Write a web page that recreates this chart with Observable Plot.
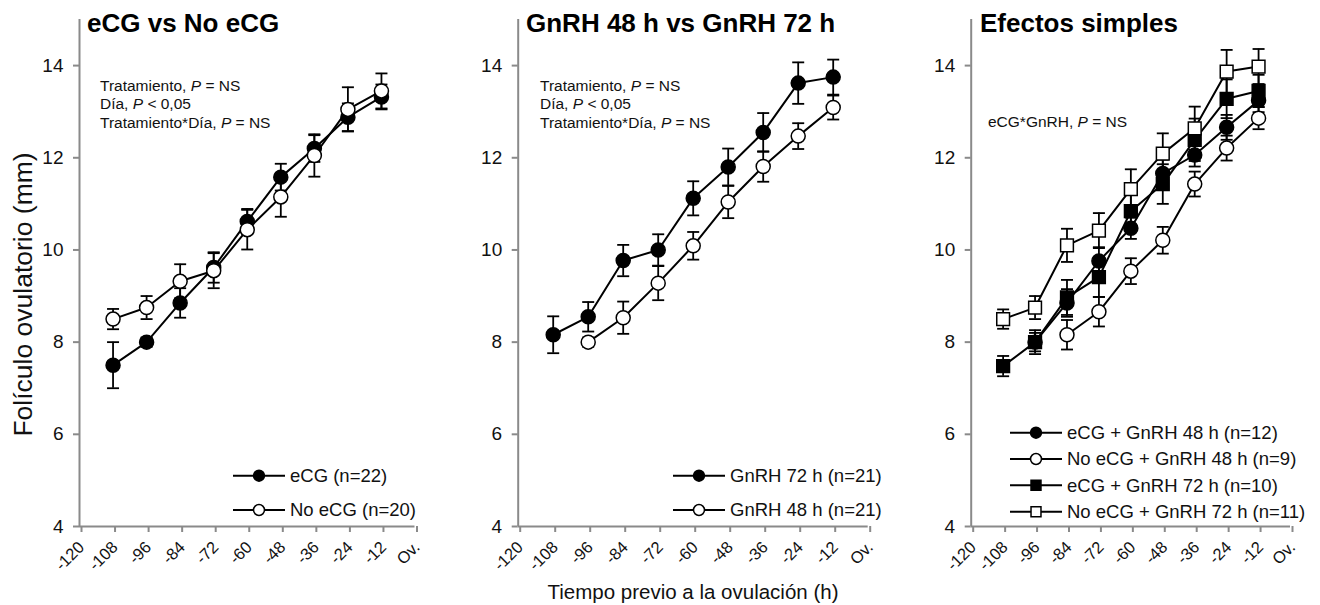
<!DOCTYPE html>
<html><head><meta charset="utf-8">
<script src="https://cdn.jsdelivr.net/npm/d3@7"></script>
<script src="https://cdn.jsdelivr.net/npm/@observablehq/plot@0.6"></script>
<style>
body{margin:0;background:#fff;}
#chart{position:relative;width:1320px;height:605px;background:#fff;font-family:"Liberation Sans",Arial,sans-serif;overflow:hidden;}
#chart svg{position:absolute;top:0;overflow:visible;}
</style></head><body><div id="chart"></div>
<script>
// ---------- shared axis data ----------
const xTickValues = [-120, -108, -96, -84, -72, -60, -48, -36, -24, -12, 0];
const xTickLabels = ["-120", "-108", "-96", "-84", "-72", "-60", "-48", "-36", "-24", "-12", "Ov."];
const yTickValues = [4, 6, 8, 10, 12, 14];
const yLabel = "Folículo ovulatorio (mm)";
const xLabel = "Tiempo previo a la ovulación (h)";

// ---------- panel 1: eCG vs No eCG ----------
const p1Title = "eCG vs No eCG";
const p1HoursECG = [-108, -96, -84, -72, -60, -48, -36, -24, -12];
const p1MeanECG = [7.5, 8.0, 8.85, 9.62, 10.62, 11.58, 12.2, 12.88, 13.32];
const p1SeECG = [0.5, 0.1, 0.32, 0.33, 0.27, 0.29, 0.29, 0.3, 0.27];
const p1HoursNo = [-108, -96, -84, -72, -60, -48, -36, -24, -12];
const p1MeanNo = [8.5, 8.75, 9.32, 9.55, 10.44, 11.15, 12.05, 13.05, 13.45];
const p1SeNo = [0.22, 0.25, 0.37, 0.38, 0.43, 0.43, 0.46, 0.48, 0.38];
const p1Names = ["eCG (n=22)", "No eCG (n=20)"];

// ---------- panel 2: GnRH 48 h vs GnRH 72 h ----------
const p2Title = "GnRH 48 h vs GnRH 72 h";
const p2Hours72 = [-108, -96, -84, -72, -60, -48, -36, -24, -12];
const p2Mean72 = [8.16, 8.55, 9.77, 10.0, 11.12, 11.8, 12.55, 13.62, 13.75];
const p2Se72 = [0.4, 0.32, 0.34, 0.34, 0.37, 0.4, 0.42, 0.45, 0.38];
const p2Hours48 = [-96, -84, -72, -60, -48, -36, -24, -12];
const p2Mean48 = [8.0, 8.53, 9.28, 10.09, 11.04, 11.81, 12.47, 13.09];
const p2Se48 = [0.1, 0.35, 0.37, 0.3, 0.35, 0.33, 0.28, 0.26];
const p2Names = ["GnRH 72 h (n=21)", "GnRH 48 h (n=21)"];

// ---------- panel 3: Efectos simples ----------
const p3Title = "Efectos simples";
const p3HoursA = [-96, -84, -72, -60, -48, -36, -24, -12];
const p3MeanA = [8.0, 8.85, 9.76, 10.47, 11.66, 12.06, 12.66, 13.24];
const p3SeA = [0.2, 0.3, 0.3, 0.23, 0.3, 0.25, 0.27, 0.25];
const p3HoursB = [-84, -72, -60, -48, -36, -24, -12];
const p3MeanB = [8.16, 8.66, 9.54, 10.21, 11.43, 12.21, 12.86];
const p3SeB = [0.32, 0.32, 0.28, 0.29, 0.27, 0.27, 0.24];
const p3HoursC = [-108, -96, -84, -72, -60, -48, -36, -24, -12];
const p3MeanC = [7.48, 8.0, 8.97, 9.41, 10.84, 11.43, 12.39, 13.28, 13.45];
const p3SeC = [0.22, 0.26, 0.38, 0.43, 0.4, 0.43, 0.46, 0.42, 0.35];
const p3HoursD = [-108, -96, -84, -72, -60, -48, -36, -24, -12];
const p3MeanD = [8.5, 8.75, 10.1, 10.42, 11.32, 12.09, 12.64, 13.87, 13.98];
const p3SeD = [0.21, 0.25, 0.36, 0.38, 0.43, 0.44, 0.47, 0.47, 0.38];
const p3Names = ["eCG + GnRH 48 h (n=12)", "No eCG + GnRH 48 h (n=9)", "eCG + GnRH 72 h (n=10)", "No eCG + GnRH 72 h (n=11)"];

// ---------- statistics annotations ([plain, italic, plain]) ----------
const statsTwoWay = [["Tratamiento, ", "P", " = NS"], ["Día, ", "P", " < 0,05"], ["Tratamiento*Día, ", "P", " = NS"]];
const statsInteraction = [["eCG*GnRH, ", "P", " = NS"]];

// ---------- helpers ----------
const FONT = "'Liberation Sans', Arial, sans-serif";
const AXIS_GRAY = "#8a8a8a";
const capSymbol = {draw(ctx, size) { const w = Math.sqrt(size / Math.PI); ctx.moveTo(-w, 0); ctx.lineTo(w, 0); }};
function rows(hours, mean, se) {
  return hours.map((h, i) => ({x: h, y: mean[i], lo: mean[i] - se[i], hi: mean[i] + se[i]}));
}
const STY = {
  fc: {symbol: "circle", fill: "black", r: 7},
  oc: {symbol: "circle", fill: "white", r: 7},
  fs: {symbol: "square", fill: "black", r: 7.2},
  os: {symbol: "square", fill: "white", r: 7.2}
};

function panel(cfg) {
  const marks = [
    Plot.ruleY([4], {stroke: AXIS_GRAY, strokeWidth: 2}),
    Plot.ruleX([-120], {stroke: AXIS_GRAY, strokeWidth: 2}),
    Plot.axisY({ticks: yTickValues, tickSize: 6, tickPadding: 10, stroke: AXIS_GRAY, strokeWidth: 2, fill: "#111", label: null}),
    Plot.axisX({ticks: xTickValues, tickFormat: d => xTickLabels[xTickValues.indexOf(d)], tickRotate: -45, tickSize: 6, tickPadding: 12, dx: 2, stroke: AXIS_GRAY, strokeWidth: 2, fill: "#111", label: null})
  ];
  for (const s of cfg.series) {
    const st = STY[s.style];
    marks.push(Plot.ruleX(s.data, {x: "x", y1: "lo", y2: "hi", stroke: "black", strokeWidth: 1.8}));
    marks.push(Plot.dot(s.data, {x: "x", y: "hi", symbol: capSymbol, r: 6, stroke: "black", strokeWidth: 1.8}));
    marks.push(Plot.dot(s.data, {x: "x", y: "lo", symbol: capSymbol, r: 6, stroke: "black", strokeWidth: 1.8}));
    marks.push(Plot.line(s.data, {x: "x", y: "y", stroke: "black", strokeWidth: 2}));
    marks.push(Plot.dot(s.data, {x: "x", y: "y", symbol: st.symbol, r: st.r, fill: st.fill, stroke: "black", strokeWidth: 1.5}));
  }
  const svg = Plot.plot({
    width: cfg.width, height: 605,
    marginTop: 19, marginBottom: 79, marginLeft: cfg.marginLeft, marginRight: cfg.marginRight,
    x: {domain: [-120, 0]}, y: {domain: [4, 15]},
    style: {fontFamily: FONT, background: "transparent", overflow: "visible"},
    marks
  });
  svg.style.left = cfg.left + "px";
  const sel = d3.select(svg);
  // tick label sizes: rotated texts are the x ticks, the others the y ticks
  sel.selectAll("text").each(function() {
    const tr = this.getAttribute("transform") || "";
    this.style.fontSize = tr.includes("rotate") ? "16.5px" : "19px";
  });
  const g = sel.append("g").attr("font-family", FONT).attr("fill", "#000").attr("text-anchor", "start");
  // title
  g.append("text").attr("x", cfg.titleX).attr("y", 32).attr("font-size", 26).attr("font-weight", "bold").text(cfg.title);
  // stats annotation
  cfg.stats.forEach((parts, i) => {
    const t = g.append("text").attr("x", cfg.statsX).attr("y", cfg.statsY + i * 18.3).attr("font-size", 15.5).attr("fill", "#111");
    t.append("tspan").text(parts[0]);
    t.append("tspan").attr("font-style", "italic").text(parts[1]);
    t.append("tspan").text(parts[2]);
  });
  // legend
  cfg.series.forEach((s, i) => {
    const st = STY[s.style];
    const y = cfg.legY[i];
    g.append("line").attr("x1", cfg.legX).attr("x2", cfg.legX + 52).attr("y1", y).attr("y2", y).attr("stroke", "black").attr("stroke-width", 2);
    const sym = d3.symbol(st.symbol === "circle" ? d3.symbolCircle : d3.symbolSquare, Math.PI * (st.r * 0.78) ** 2);
    g.append("path").attr("d", sym()).attr("transform", `translate(${cfg.legX + 26},${y})`).attr("fill", st.fill).attr("stroke", "black").attr("stroke-width", 1.5);
    g.append("text").attr("x", cfg.legX + 57).attr("y", y).attr("dy", "0.35em").attr("font-size", 18.5).attr("fill", "#111").text(s.name);
  });
  if (cfg.yLabel) {
    g.append("text").attr("transform", "translate(31.5,294.5) rotate(-90)").attr("text-anchor", "middle").attr("font-size", 26.5).attr("fill", "#111").text(cfg.yLabel);
  }
  if (cfg.xLabel) {
    g.append("text").attr("x", cfg.xLabelX).attr("y", 599).attr("text-anchor", "middle").attr("font-size", 20.5).attr("fill", "#111").text(cfg.xLabel);
  }
  document.getElementById("chart").appendChild(svg);
}

panel({
  left: 0, width: 440, marginLeft: 79, marginRight: 25.5, title: p1Title, titleX: 87,
  stats: statsTwoWay, statsX: 100, statsY: 91, legX: 233, legY: [475.7, 510], yLabel,
  series: [
    {name: p1Names[0], style: "fc", data: rows(p1HoursECG, p1MeanECG, p1SeECG)},
    {name: p1Names[1], style: "oc", data: rows(p1HoursNo, p1MeanNo, p1SeNo)}
  ]
});
panel({
  left: 440, width: 440, marginLeft: 77.7, marginRight: 12.3, title: p2Title, titleX: 86,
  stats: statsTwoWay, statsX: 100, statsY: 91, legX: 233, legY: [475.7, 510], xLabel, xLabelX: 253,
  series: [
    {name: p2Names[0], style: "fc", data: rows(p2Hours72, p2Mean72, p2Se72)},
    {name: p2Names[1], style: "oc", data: rows(p2Hours48, p2Mean48, p2Se48)}
  ]
});
panel({
  left: 880, width: 440, marginLeft: 90.7, marginRight: 30, title: p3Title, titleX: 100,
  stats: statsInteraction, statsX: 108, statsY: 127, legX: 130, legY: [432.7, 459, 485.3, 511.7],
  series: [
    {name: p3Names[0], style: "fc", data: rows(p3HoursA, p3MeanA, p3SeA)},
    {name: p3Names[1], style: "oc", data: rows(p3HoursB, p3MeanB, p3SeB)},
    {name: p3Names[2], style: "fs", data: rows(p3HoursC, p3MeanC, p3SeC)},
    {name: p3Names[3], style: "os", data: rows(p3HoursD, p3MeanD, p3SeD)}
  ]
});
</script></body></html>
